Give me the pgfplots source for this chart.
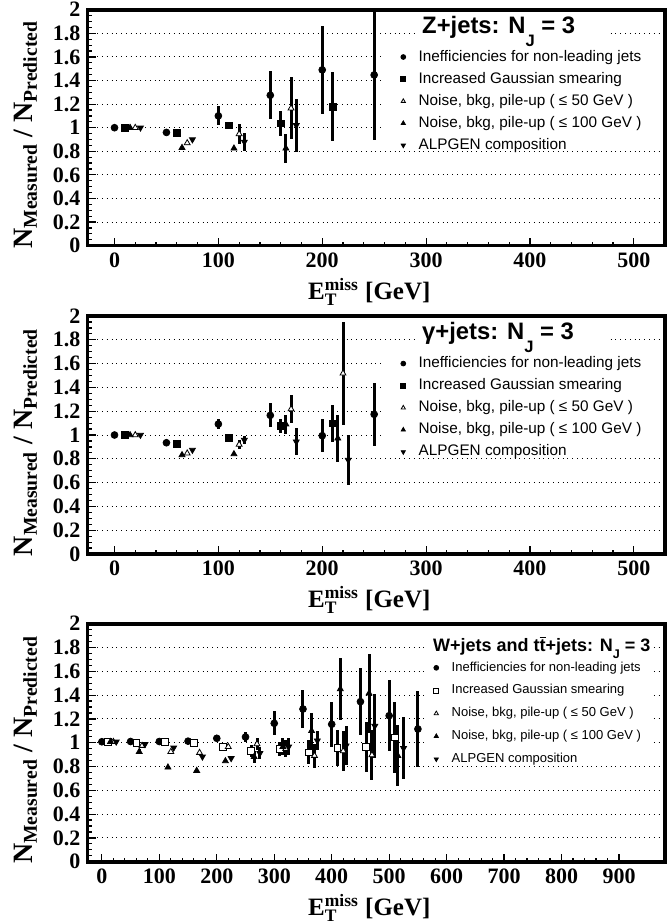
\documentclass[border=0pt]{standalone}
\usepackage{fontspec}
\setmainfont{Liberation Serif}
\newfontfamily\lsans{Liberation Sans}
\usepackage{pgfplots}
\pgfplotsset{compat=1.18}

\newcommand\nj[2]{N\raisebox{#2}{\fontsize{#1}{#1}\selectfont J}}

\pgfplotsset{
  panel/.style={
    scale only axis, width=288.75pt,
    ymin=0, ymax=2,
    ytick={0,0.2,0.4,0.6,0.8,1,1.2,1.4,1.6,1.8,2},
    minor y tick num=3, minor x tick num=4,
    tick align=inside, tick pos=left,
    ymajorgrids, grid style={dotted, black, line width=0.5pt},
    axis line style={line width=1.8pt},
    major tick length=4pt, minor tick length=2pt,
    every tick/.style={black, line width=0.6pt},
    /pgf/number format/assume math mode=true,
    ticklabel style={font=\fontsize{11}{12}\selectfont\bfseries},
    xlabel={$\mathbf{E}^{\mathbf{miss}}_{\mathbf{T}}$ [GeV]},
    ylabel={N\textsubscript{Measured} / N\textsubscript{Predicted}},
    every axis x label/.style={at={(rel axis cs:0.488,0)}, yshift=-23pt, anchor=center,
      font=\fontsize{12.5}{14}\selectfont\bfseries},
    every axis y label/.style={at={(rel axis cs:0,0.47)}, xshift=-31pt, rotate=90, anchor=center,
      font=\fontsize{14}{16}\selectfont\bfseries},
    legend cell align=left,
    legend image code/.code={\draw[##1] plot coordinates {(0pt,0pt)}; \path (-1.5pt,0pt) (5.5pt,0pt);},
    legend image post style={mark size=1.2pt},
  },
  pt/.style={only marks, black, mark size=1.7pt,
    error bars/.cd, y dir=both, y explicit, error mark=none,
    error bar style={line width=1.5pt, black}},
  sCirc/.style={mark=*, pt},
  sSq/.style={mark=square*, pt},
  sOSq/.style={mark=square*, mark options={fill=white}, pt},
  sOTri/.style={mark=triangle*, mark size=1.9pt, mark options={fill=white}, pt},
  sTri/.style={mark=triangle*, mark size=1.9pt, pt},
  sDown/.style={mark=triangle*, mark size=1.9pt, mark options={rotate=180}, pt},
}

\begin{document}
\begin{tikzpicture}
\path[use as bounding box] (0,0) rectangle (336pt,461.5pt);

% ---------- Z+jets ----------
\begin{axis}[panel, height=118pt, at={(43.75pt,338.65pt)}, anchor=south west,
  xmin=-26, xmax=530, xtick={0,100,200,300,400,500},
  legend style={at={(rel axis cs:0.516,0.865)}, anchor=north west, fill=none, draw=none,
    inner xsep=7pt, font=\lsans\fontsize{7.65}{9}\selectfont, row sep=0pt}]
% white box behind header and legend
\fill[white] (axis cs:291,1.70) rectangle (axis cs:477,1.98);
\fill[white] (axis cs:260,0.83) rectangle (axis cs:525,1.70);
\addplot[sCirc] table[x=x,y=y,y error=e,row sep=\\]{x y e\\ 0 1.00 0.01\\ 50 0.96 0.01\\ 100 1.10 0.08\\ 150 1.275 0.205\\ 200 1.49 0.37\\ 250 1.447 0.55\\};
\addlegendentry{Inefficiencies for non-leading jets}
\addplot[sSq] table[x=x,y=y,y error=e,row sep=\\]{x y e\\ 10 1.00 0.01\\ 60 0.955 0.01\\ 110 1.02 0.02\\ 160 1.037 0.105\\ 210 1.178 0.29\\};
\addlegendentry{Increased Gaussian smearing}
\addplot[sOTri] table[x=x,y=y,y error=e,row sep=\\]{x y e\\ 20 1.00 0.01\\ 70 0.87 0.015\\ 120 0.947 0.085\\ 170 1.165 0.265\\};
\addlegendentry{Noise, bkg, pile-up ( ≤ 50 GeV )}
\addplot[sTri] table[x=x,y=y,y error=e,row sep=\\]{x y e\\ 15 1.00 0.01\\ 65 0.83 0.01\\ 115 0.825 0.01\\ 165 0.825 0.12\\};
\addlegendentry{Noise, bkg, pile-up ( ≤ 100 GeV )}
\addplot[sDown] table[x=x,y=y,y error=e,row sep=\\]{x y e\\ 25 1.00 0.01\\ 75 0.90 0.01\\ 125 0.88 0.075\\ 175 1.02 0.225\\};
\addlegendentry{ALPGEN composition}
\node[anchor=base west, inner sep=2pt, font=\lsans\bfseries\fontsize{11.9}{13}\selectfont]
  at (rel axis cs:0.572,0.90) {Z+jets: \nj{8.3}{-0.55em} = 3};
\end{axis}

% ---------- gamma+jets ----------
\begin{axis}[panel, height=119pt, at={(43.75pt,184.5pt)}, anchor=south west,
  xmin=-26, xmax=530, xtick={0,100,200,300,400,500},
  legend style={at={(rel axis cs:0.516,0.865)}, anchor=north west, fill=none, draw=none,
    inner xsep=7pt, font=\lsans\fontsize{7.65}{9}\selectfont, row sep=0pt}]
\fill[white] (axis cs:291,1.70) rectangle (axis cs:477,1.98);
\fill[white] (axis cs:260,0.83) rectangle (axis cs:525,1.70);
\addplot[sCirc] table[x=x,y=y,y error=e,row sep=\\]{x y e\\ 0 1.00 0.01\\ 50 0.935 0.01\\ 100 1.092 0.04\\ 150 1.165 0.10\\ 200 0.994 0.14\\ 250 1.174 0.265\\};
\addlegendentry{Inefficiencies for non-leading jets}
\addplot[sSq] table[x=x,y=y,y error=e,row sep=\\]{x y e\\ 10 1.00 0.01\\ 60 0.924 0.01\\ 110 0.975 0.01\\ 160 1.078 0.06\\ 210 1.098 0.157\\};
\addlegendentry{Increased Gaussian smearing}
\addplot[sOTri] table[x=x,y=y,y error=e,row sep=\\]{x y e\\ 20 1.00 0.01\\ 70 0.846 0.01\\ 120 0.92 0.04\\ 170 1.218 0.12\\ 220 1.518 0.43\\};
\addlegendentry{Noise, bkg, pile-up ( ≤ 50 GeV )}
\addplot[sTri] table[x=x,y=y,y error=e,row sep=\\]{x y e\\ 15 1.00 0.01\\ 65 0.832 0.01\\ 115 0.84 0.01\\ 165 1.09 0.08\\ 215 0.972 0.20\\};
\addlegendentry{Noise, bkg, pile-up ( ≤ 100 GeV )}
\addplot[sDown] table[x=x,y=y,y error=e,row sep=\\]{x y e\\ 25 1.00 0.01\\ 75 0.874 0.01\\ 125 0.958 0.03\\ 175 0.944 0.116\\ 225 0.79 0.21\\};
\addlegendentry{ALPGEN composition}
\node[anchor=base west, inner sep=2pt, font=\lsans\bfseries\fontsize{11.9}{13}\selectfont]
  at (rel axis cs:0.572,0.90) {γ+jets: \nj{8.3}{-0.55em} = 3};
\end{axis}

% ---------- W+jets and ttbar+jets ----------
\begin{axis}[panel, height=119pt, at={(43.75pt,30.65pt)}, anchor=south west,
  xmin=-25, xmax=980, xtick={0,100,...,900},
  legend style={at={(rel axis cs:0.587,0.876)}, anchor=north west, fill=none, draw=none,
    inner xsep=3pt, font=\lsans\fontsize{6.5}{8}\selectfont, row sep=1.2pt}]
\fill[white] (axis cs:562,0.82) rectangle (axis cs:957,1.90);
\addplot[sCirc] table[x=x,y=y,y error=e,row sep=\\]{x y e\\ 0 1.008 0.01\\ 50 1.01 0.01\\ 100 1.01 0.01\\ 150 1.013 0.01\\ 200 1.037 0.01\\ 250 1.048 0.04\\ 300 1.163 0.10\\ 350 1.283 0.16\\ 400 1.155 0.187\\ 450 1.345 0.283\\ 500 1.227 0.30\\ 550 1.115 0.32\\};
\addlegendentry{Inefficiencies for non-leading jets}
\addplot[sOSq] table[x=x,y=y,y error=e,row sep=\\]{x y e\\ 10 1.008 0.01\\ 60 1.00 0.01\\ 110 1.01 0.01\\ 160 1.00 0.01\\ 210 0.966 0.01\\ 260 0.93 0.05\\ 310 0.947 0.06\\ 360 0.919 0.10\\ 410 0.953 0.15\\ 460 0.966 0.21\\ 510 1.045 0.30\\};
\addlegendentry{Increased Gaussian smearing}
\addplot[sOTri] table[x=x,y=y,y error=e,row sep=\\]{x y e\\ 20 1.008 0.01\\ 70 0.975 0.01\\ 120 0.924 0.01\\ 170 0.916 0.01\\ 220 0.966 0.01\\ 270 0.989 0.05\\ 320 0.95 0.07\\ 370 0.891 0.10\\ 420 0.93 0.165\\ 470 0.897 0.21\\};
\addlegendentry{Noise, bkg, pile-up ( ≤ 50 GeV )}
\addplot[sTri] table[x=x,y=y,y error=e,row sep=\\]{x y e\\ 15 1.008 0.01\\ 65 0.924 0.02\\ 115 0.793 0.01\\ 165 0.765 0.01\\ 215 0.846 0.01\\ 265 0.882 0.05\\ 315 0.966 0.07\\ 365 1.10 0.15\\ 415 1.451 0.257\\ 465 1.415 0.33\\ 515 0.891 0.255\\};
\addlegendentry{Noise, bkg, pile-up ( ≤ 100 GeV )}
\addplot[sDown] table[x=x,y=y,y error=e,row sep=\\]{x y e\\ 25 1.008 0.01\\ 75 0.987 0.01\\ 125 0.958 0.01\\ 175 0.882 0.01\\ 225 0.869 0.01\\ 275 0.911 0.05\\ 325 0.966 0.07\\ 375 1.017 0.08\\ 425 0.975 0.163\\ 475 1.14 0.27\\ 525 0.953 0.26\\};
\addlegendentry{ALPGEN composition}
\node[anchor=base west, inner sep=2pt, font=\lsans\bfseries\fontsize{9.0}{11}\selectfont]
  at (rel axis cs:0.591,0.882) {W+jets and t$\overline{\hbox{t}}$+jets: \nj{6.3}{-0.4em} = 3};
\end{axis}
\end{tikzpicture}
\end{document}
